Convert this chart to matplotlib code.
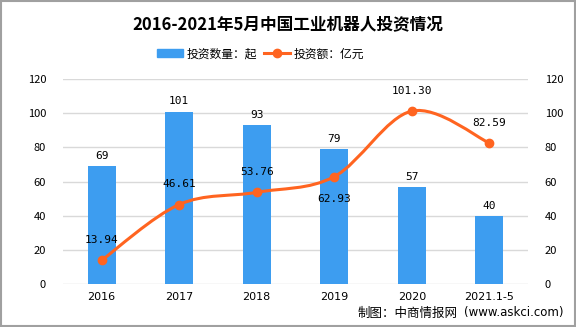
import numpy as np
import matplotlib.pyplot as plt
from matplotlib.path import Path
from matplotlib.patches import PathPatch, Rectangle
from matplotlib.lines import Line2D

plt.rcParams['font.family'] = ['Noto Sans CJK SC', 'DejaVu Sans']

years = ['2016', '2017', '2018', '2019', '2020', '2021.1-5']
counts = [69, 101, 93, 79, 57, 40]
amounts = [13.94, 46.61, 53.76, 62.93, 101.30, 82.59]

bar_color = '#3d9df0'
line_color = '#ff6420'

fig = plt.figure(figsize=(5.76, 3.27), dpi=100)
ax = fig.add_axes([0.109, 0.131, 0.808, 0.627])
ax2 = ax.twinx()

x = np.arange(len(years))
ax.bar(x, counts, width=0.36, color=bar_color, zorder=2)
for xi, c in zip(x, counts):
    ax.text(xi, c + 3, str(c), ha='center', va='bottom', fontsize=8,
            family='DejaVu Sans Mono')

# smooth line (Catmull-Rom as bezier segments)
pts = np.column_stack([x, amounts])
verts = [tuple(pts[0])]
codes = [Path.MOVETO]
for i in range(len(pts) - 1):
    p0 = pts[i - 1] if i > 0 else pts[i]
    p1, p2 = pts[i], pts[i + 1]
    p3 = pts[i + 2] if i + 2 < len(pts) else pts[i + 1]
    c1 = p1 + (p2 - p0) / 6
    c2 = p2 - (p3 - p1) / 6
    verts += [tuple(c1), tuple(c2), tuple(p2)]
    codes += [Path.CURVE4] * 3
ax2.add_patch(PathPatch(Path(verts, codes), fill=False, edgecolor=line_color,
                        lw=2.2, zorder=3))
ax2.plot(x, amounts, 'o', color=line_color, ms=6, zorder=4)

offsets = [9, 9, 9, -10, 9, 9]
for xi, a, off in zip(x, amounts, offsets):
    ax2.text(xi, a + off, f'{a:.2f}', ha='center',
             va='bottom' if off > 0 else 'top', fontsize=8,
             family='DejaVu Sans Mono')

for a in (ax, ax2):
    a.set_ylim(0, 120)
    a.set_yticks(range(0, 121, 20))
    a.tick_params(length=0, labelsize=8)
    for s in a.spines.values():
        s.set_visible(False)
ax.set_xlim(-0.5, 5.5)
ax.set_xticks(x)
ax.set_xticklabels(years, family='DejaVu Sans')
ax.tick_params(axis='x', pad=6)
ax.tick_params(axis='y', pad=12)
ax2.tick_params(axis='y', pad=12)
ax.grid(axis='y', color='#d9d9d9', lw=1, zorder=0)
ax.set_axisbelow(True)

fig.text(0.5, 0.925, '2016-2021年5月中国工业机器人投资情况', ha='center',
         va='center', fontsize=12, fontweight='bold')

handles = [Rectangle((0, 0), 1, 1, color=bar_color),
           Line2D([0], [0], color=line_color, lw=2.2, marker='o', ms=6)]
fig.legend(handles, ['投资数量：起', '投资额：亿元'], loc='center',
           bbox_to_anchor=(0.453, 0.835), ncol=2, frameon=False, fontsize=8.5,
           handlelength=2.2, columnspacing=0.6, handletextpad=0.3)

fig.text(0.62, 0.043, '制图：中商情报网', fontsize=9, va='center')
fig.text(0.805, 0.043, '(www.askci.com)', fontsize=8.5, va='center',
         family='DejaVu Sans')

fig.add_artist(Rectangle((0.001, 0.002), 0.997, 0.995, transform=fig.transFigure,
                         fill=False, edgecolor='#a0a0a0', lw=1.5))

fig.savefig('out.png', dpi=100)
